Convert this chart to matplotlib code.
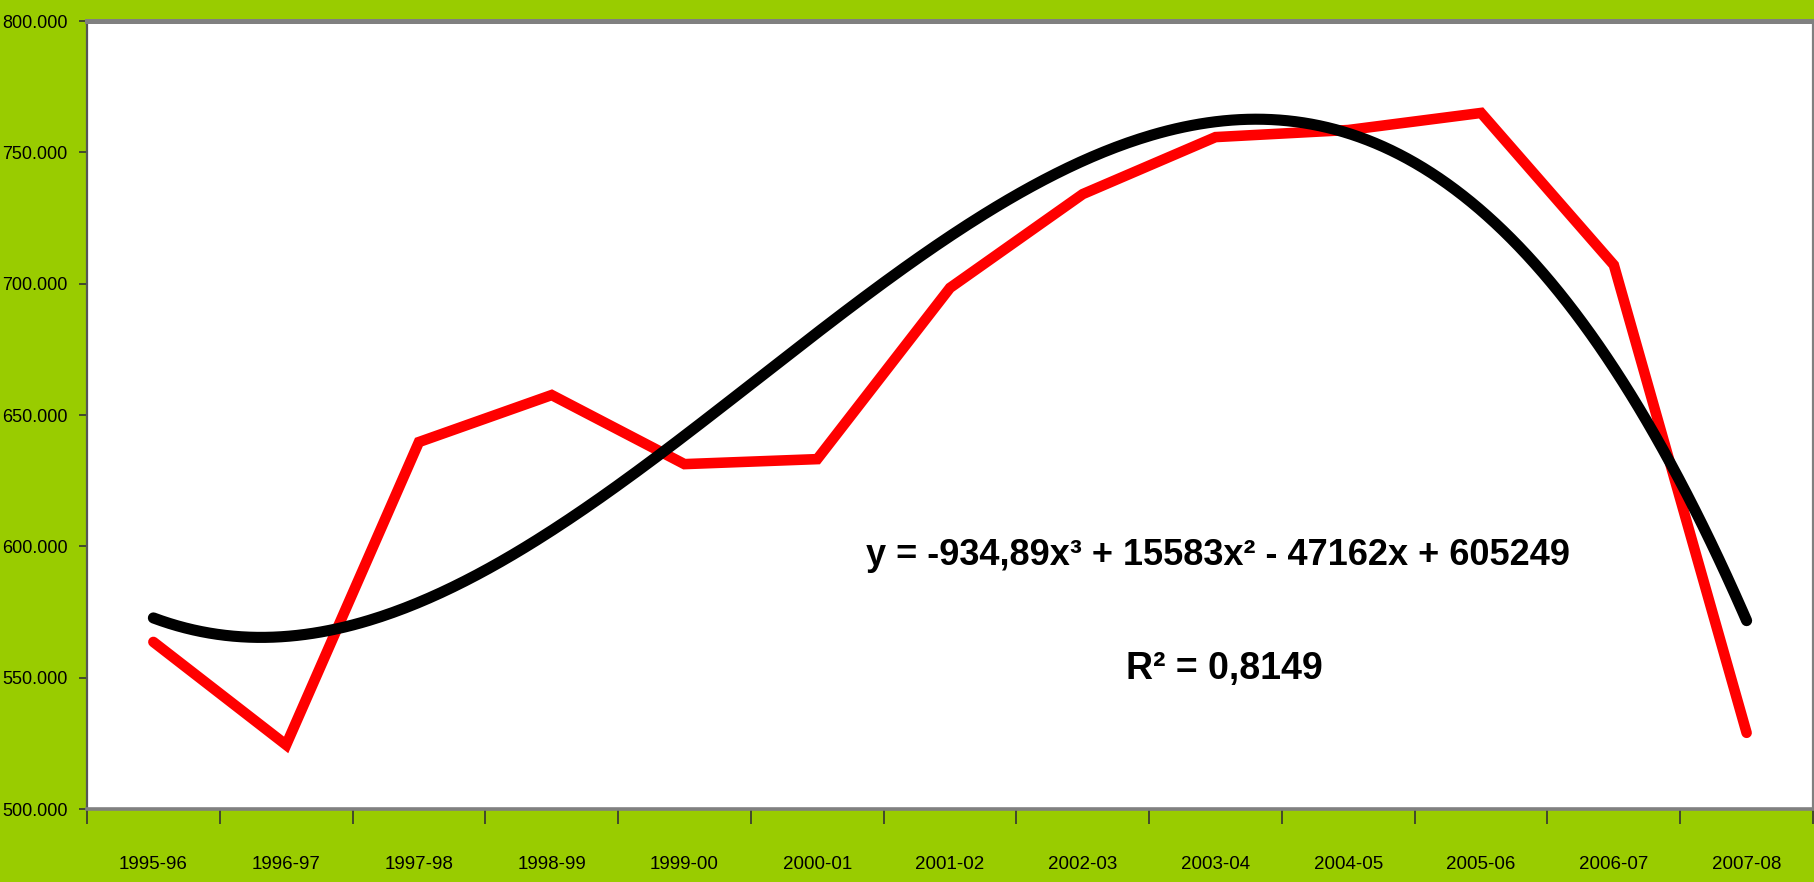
import numpy as np
import matplotlib
matplotlib.use('Agg')
import matplotlib.pyplot as plt
from matplotlib.ticker import FuncFormatter, FixedLocator

# ---------------------------------------------------------------------------
# data

years = ['1995-96', '1996-97', '1997-98', '1998-99', '1999-00', '2000-01',
         '2001-02', '2002-03', '2003-04', '2004-05', '2005-06', '2006-07',
         '2007-08']

# yearly values (red series)
values = [563600, 524400, 639700, 657600, 631300, 633200, 698400,
          734100, 755800, 758500, 765000, 707100, 529000]

# y axis
y_ticks = [500000, 550000, 600000, 650000, 700000, 750000, 800000]

# trendline label as printed on the chart
eq_text = 'y = -934,89x\u00b3 + 15583x\u00b2 - 47162x + 605249'
r2_text = 'R\u00b2 = 0,8149'

# ---------------------------------------------------------------------------

bg_green = '#99CC00'
font_fam = ['Liberation Sans', 'DejaVu Sans']

fig = plt.figure(figsize=(18.14, 8.82), dpi=100, facecolor=bg_green)
ax = fig.add_axes([87 / 1814, 1 - 809 / 882, 1726 / 1814, 788 / 882])
ax.set_facecolor('white')

x = np.arange(len(years))
ax.plot(x, values, color='#FF0000', lw=7.6, solid_joinstyle='miter',
        solid_capstyle='round', zorder=2)

# cubic trendline (Excel style), fitted on x = 1..13
xf = x + 1
coef = np.polyfit(xf, values, 3)
xs = np.linspace(xf[0], xf[-1], 400)
ax.plot(xs - 1, np.polyval(coef, xs), color='black', lw=8,
        solid_capstyle='round', zorder=3)

ax.set_xlim(-0.5, len(years) - 0.5)
ax.set_ylim(y_ticks[0], y_ticks[-1])

# y axis
ax.set_yticks(y_ticks)
ax.yaxis.set_major_formatter(FuncFormatter(lambda v, p: '{:,.0f}'.format(v).replace(',', '.')))
ax.tick_params(axis='y', direction='out', length=6, width=1.2, color='#333333',
               pad=8, labelsize=13)

# x axis: tick marks between categories, labels at centers
ax.xaxis.set_major_locator(FixedLocator(np.arange(len(years) + 1) - 0.5))
ax.xaxis.set_minor_locator(FixedLocator(x))
ax.set_xticklabels([], minor=False)
ax.set_xticklabels(years, minor=True)
ax.tick_params(axis='x', which='major', direction='out', length=11, width=1.2,
               color='#333333')
ax.tick_params(axis='x', which='minor', length=0, pad=34, labelsize=13.5)

for lab in ax.get_xticklabels(minor=True) + ax.get_yticklabels():
    lab.set_family(font_fam)
    lab.set_color('black')

# plot area border
ax.spines['top'].set_color('#808080')
ax.spines['top'].set_linewidth(3.6)
ax.spines['bottom'].set_color('#808080')
ax.spines['bottom'].set_linewidth(2.6)
ax.spines['left'].set_color('#555555')
ax.spines['left'].set_linewidth(1.6)
ax.spines['right'].set_color('#808080')
ax.spines['right'].set_linewidth(1.6)

# trendline equation
ax.text(0.655, 0.322, eq_text, transform=ax.transAxes, ha='center', va='center',
        fontsize=26, fontweight='bold', family=font_fam, zorder=4)
ax.text(0.659, 0.178, r2_text, transform=ax.transAxes, ha='center', va='center',
        fontsize=27, fontweight='bold', family=font_fam, zorder=4)

fig.savefig('out.png', dpi=100, facecolor=bg_green)
